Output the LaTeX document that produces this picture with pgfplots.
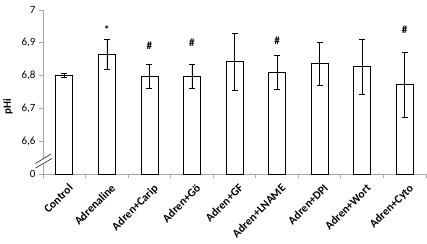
\documentclass[border=0pt]{standalone}
\usepackage{fontspec}
\setmainfont{Carlito}
\usepackage{pgfplots}
\usepackage{pgfplotstable}
\pgfplotsset{compat=1.18}
\usetikzlibrary{calc}

\pgfplotstableread{
x y e
0 6.802 0.006
1 6.865 0.047
2 6.797 0.037
3 6.798 0.037
4 6.842 0.087
5 6.811 0.052
6 6.836 0.066
7 6.827 0.083
8 6.773 0.099
}\data

\begin{document}
\begin{tikzpicture}
\begin{axis}[
  name=ax,
  scale only axis,
  width=383pt, height=164pt,
  xmin=-0.5, xmax=8.5,
  ymin=6.5, ymax=7,
  axis lines*=left,
  axis line style={draw=gray!70, line width=0.8pt},
  tick style={gray!70, line width=0.8pt},
  tick align=outside,
  xtick pos=bottom, ytick pos=left,
  ytick={6.5,6.6,6.7,6.8,6.9,7},
  yticklabels={0,{6,6},{6,7},{6,8},{6,9},7},
  yticklabel style={font=\fontsize{11}{13}\selectfont},
  major tick length=4pt,
  minor tick length=4pt,
  xtick={0,1,2,3,4,5,6,7,8},
  xticklabels={Control,Adrenaline,Adren+Carip,Adren+Gö,Adren+GF,Adren+LNAME,Adren+DPI,Adren+Wort,Adren+Cyto},
  major x tick style={draw=none},
  minor xtick={-0.5,0.5,1.5,2.5,3.5,4.5,5.5,6.5,7.5,8.5},
  xticklabel style={rotate=45, anchor=north east, font=\bfseries\fontsize{11.5}{13}\selectfont, inner sep=1pt, yshift=-5pt, xshift=0pt},
  ylabel={\bfseries pHi},
  ylabel style={at={(axis description cs:-0.07,0.41)}, anchor=south, font=\fontsize{11}{13}\selectfont},
  clip=true,
]
\addplot[ybar, bar width=17pt, bar shift=0pt, draw=black, fill=white, line width=0.7pt,
  error bars/.cd, y dir=both, y explicit,
  error bar style={black, line width=0.6pt},
  error mark options={rotate=90, mark size=3pt, black, line width=0.6pt}]
  table[x=x, y=y, y error=e] {\data};
\addplot[draw=none, mark=none, nodes near coords, point meta=explicit symbolic,
  nodes near coords style={anchor=center, font=\bfseries\fontsize{11}{13}\selectfont, black}]
  coordinates {(1,6.94)[*] (2,6.892)[\#] (3,6.899)[\#] (5,6.905)[\#] (8,6.941)[\#]};
\end{axis}
\fill[white] ($(ax.south west)+(-7.5pt,6pt)$) -- ($(ax.south west)+(9pt,15.5pt)$) -- ($(ax.south west)+(8pt,20pt)$) -- ($(ax.south west)+(-7.5pt,10.5pt)$) -- cycle;
\draw[black!80, line width=0.7pt] ($(ax.south west)+(-7.5pt,10.5pt)$) -- ($(ax.south west)+(8pt,20pt)$);
\draw[black!80, line width=0.7pt] ($(ax.south west)+(-7.5pt,6pt)$) -- ($(ax.south west)+(9pt,15.5pt)$);
\pgfresetboundingbox
\path[use as bounding box] ($(ax.south west)+(-43pt,-69pt)$) rectangle ($(ax.north east)+(1pt,10pt)$);
\end{tikzpicture}
\end{document}
